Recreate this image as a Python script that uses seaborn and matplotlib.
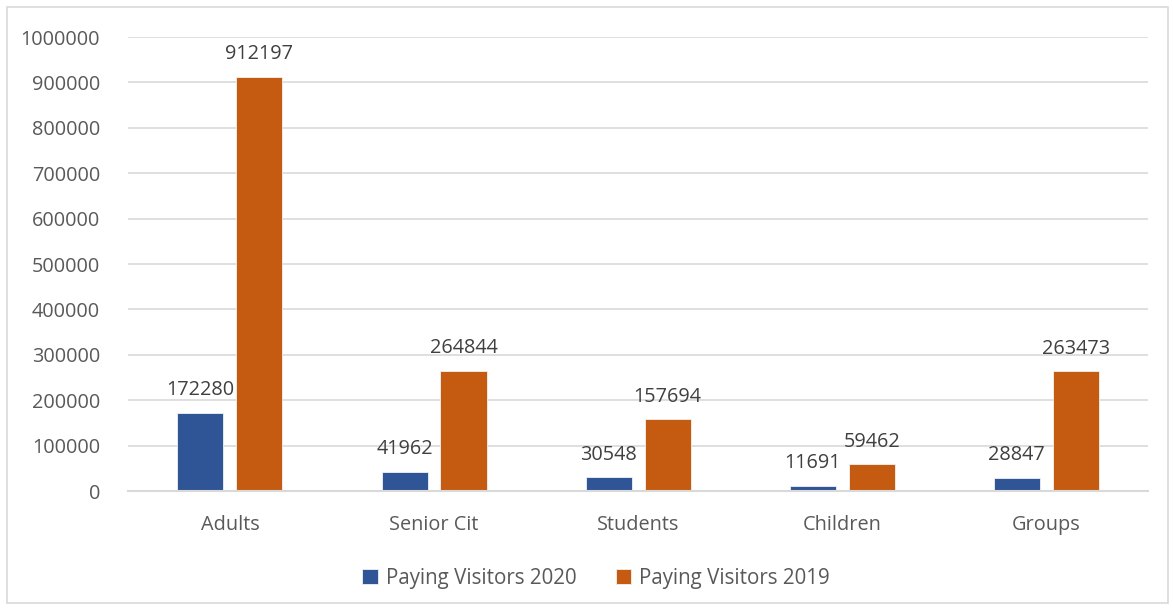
import pandas as pd
import matplotlib.pyplot as plt
import seaborn as sns
from matplotlib.patches import Rectangle

# datos
categories = ['Adults', 'Senior Cit', 'Students', 'Children', 'Groups']
visitors_2020 = [172280, 41962, 30548, 11691, 28847]
visitors_2019 = [912197, 264844, 157694, 59462, 263473]
series_names = ['Paying Visitors 2020', 'Paying Visitors 2019']

df = pd.DataFrame({
    'Category': categories * 2,
    'Series': [series_names[0]] * len(categories) + [series_names[1]] * len(categories),
    'Value': visitors_2020 + visitors_2019,
})

sns.set_style('white')
plt.rcParams['font.family'] = ['Open Sans', 'DejaVu Sans']

palette = {series_names[0]: '#2F5597', series_names[1]: '#C55A11'}
text_color = '#595959'

fig = plt.figure(figsize=(11.73, 6.08), dpi=100)
ax = fig.add_axes([0.109, 0.1924, 0.870, 0.7466])

sns.barplot(data=df, x='Category', y='Value', hue='Series', palette=palette,
            width=0.578, gap=0.22, saturation=1, ax=ax, legend=True,
            edgecolor='#F2F2F2', linewidth=0.6)

ax.set_ylim(0, 1000000)
ax.set_xlim(-0.5, len(categories) - 0.5)
ax.set_yticks(range(0, 1000001, 100000))
ax.set_yticklabels([str(v) for v in range(0, 1000001, 100000)])
ax.yaxis.grid(True, color='#D9D9D9', linewidth=1.2)
ax.set_axisbelow(True)
for s in ['top', 'right', 'left']:
    ax.spines[s].set_visible(False)
ax.spines['bottom'].set_color('#D9D9D9')
ax.spines['bottom'].set_linewidth(1.5)
ax.tick_params(axis='both', length=0, labelsize=14.3, colors=text_color)
ax.tick_params(axis='y', pad=20)
ax.tick_params(axis='x', pad=17.5)
ax.set_xlabel('')
ax.set_ylabel('')

# etiquetas encima de cada barra
for cont in ax.containers:
    ax.bar_label(cont, labels=[str(int(v)) for v in cont.datavalues],
                 padding=9, fontsize=14.3, color='#404040')

ax.legend(loc='upper center', bbox_to_anchor=(0.459, -0.128), ncol=2, frameon=False,
          fontsize=14.8, labelcolor=text_color, handlelength=0.75, handleheight=0.75,
          handletextpad=0.4, columnspacing=1.9)

# marco del grafico
fig.patches.append(Rectangle((0.006, 0.008), 0.990, 0.980, transform=fig.transFigure,
                             fill=False, edgecolor='#D9D9D9', linewidth=1.2))

plt.savefig('out.png', dpi=100)
